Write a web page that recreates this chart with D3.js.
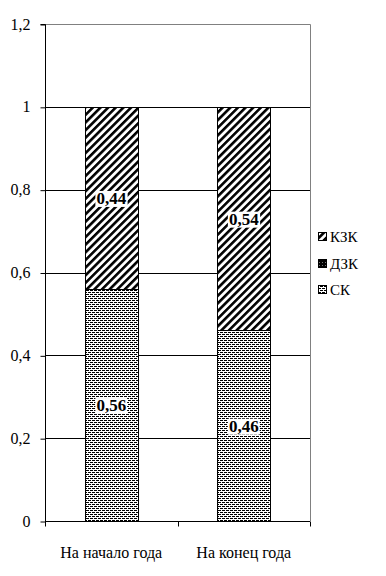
<!DOCTYPE html>
<html><head><meta charset="utf-8">
<script src="https://cdn.jsdelivr.net/npm/d3@7"></script>
</head><body style="margin:0;background:#fff">
<svg id="c" width="386" height="576" style="display:block"></svg>
<script>
const categories = ["На начало года", "На конец года"];
const seriesNames = ["СК", "ДЗК", "КЗК"];
const sk = [0.56, 0.46];
const dzk = [0, 0];
const kzk = [0.44, 0.54];
const yTicks = [0, 0.2, 0.4, 0.6, 0.8, 1, 1.2];
const yTickLabels = ["0", "0,2", "0,4", "0,6", "0,8", "1", "1,2"];

const FF = "Liberation Serif";
const svg = d3.select("#c");
const L = 45, R = 310, T = 24, B = 521;
const x = d3.scaleBand().domain(categories).range([L, R]).paddingInner(0.6).paddingOuter(0.3);
const band = d3.scaleBand().domain(categories).range([L, R]);
const y = d3.scaleLinear().domain([0, 1.2]).range([B, T]);
function font(sel, size, weight) {
  sel.attr("font-family", FF).attr("font-size", size)
    .style("font-family", "'Liberation Serif', serif", "important")
    .style("font-size", size + "px", "important");
  if (weight) sel.attr("font-weight", weight).style("font-weight", weight, "important");
  return sel;
}

const defs = svg.append("defs");
const p1 = defs.append("pattern").attr("id", "diag").attr("patternUnits", "userSpaceOnUse")
  .attr("width", 5.4).attr("height", 5.4).attr("patternTransform", "rotate(45)");
p1.append("rect").attr("width", 5.4).attr("height", 5.4).attr("fill", "#fff");
p1.append("rect").attr("width", 2.6).attr("height", 5.4).attr("fill", "#000");
const p2 = defs.append("pattern").attr("id", "dots").attr("patternUnits", "userSpaceOnUse")
  .attr("width", 4).attr("height", 4);
p2.append("rect").attr("width", 4).attr("height", 4).attr("fill", "#fff");
p2.append("rect").attr("x", 0).attr("y", 0).attr("width", 3).attr("height", 1).attr("fill", "#000");
p2.append("rect").attr("x", 2).attr("y", 2).attr("width", 3).attr("height", 1).attr("fill", "#000");
p2.append("rect").attr("x", -2).attr("y", 2).attr("width", 3).attr("height", 1).attr("fill", "#000");
const p3 = defs.append("pattern").attr("id", "dark").attr("patternUnits", "userSpaceOnUse")
  .attr("width", 3).attr("height", 3);
p3.append("rect").attr("width", 3).attr("height", 3).attr("fill", "#000");
p3.append("rect").attr("x", 1).attr("y", 1).attr("width", 1).attr("height", 1).attr("fill", "#777");
const fills = {"СК": "url(#dots)", "ДЗК": "url(#dark)", "КЗК": "url(#diag)"};
const vals = {"СК": sk, "ДЗК": dzk, "КЗК": kzk};

// plot border (gray top/right)
svg.append("path").attr("d", `M${L},${T + 0.5}H${R + 0.5}V${B}`).attr("fill", "none").attr("stroke", "#808080").attr("stroke-width", 1);

// gridlines
svg.append("g").selectAll("line").data(yTicks.filter(v => v > 0 && v < 1.2)).join("line")
  .attr("x1", L).attr("x2", R).attr("y1", d => Math.round(y(d)) + 0.5).attr("y2", d => Math.round(y(d)) + 0.5)
  .attr("stroke", "#000").attr("stroke-width", 1);

// stacked bars
const rows = categories.map((c, i) => ({cat: c, idx: i, "СК": sk[i], "ДЗК": dzk[i], "КЗК": kzk[i]}));
const stack = d3.stack().keys(seriesNames)(rows);
svg.append("g").selectAll("g").data(stack).join("g")
  .attr("fill", d => fills[d.key])
  .selectAll("rect").data(d => d.filter(s => s[1] - s[0] > 0)).join("rect")
  .attr("x", d => Math.round(x(d.data.cat)) + 0.5)
  .attr("width", Math.round(x.bandwidth()))
  .attr("y", d => Math.round(y(d[1])) + 0.5)
  .attr("height", d => Math.round(y(d[0])) - Math.round(y(d[1])))
  .attr("stroke", "#000").attr("stroke-width", 1);

// data labels
const labels = [];
stack.forEach(s => s.forEach(d => {
  const v = vals[s.key][d.data.idx];
  if (v > 0) labels.push({v, cat: d.data.cat, mid: (d[0] + d[1]) / 2});
}));
const lg = svg.append("g");
labels.forEach(l => {
  const t = lg.append("text").attr("x", x(l.cat) + x.bandwidth() / 2).attr("y", y(l.mid) + 6)
    .attr("text-anchor", "middle")
    .text(l.v.toFixed(2).replace(".", ","));
  font(t, 17, "bold");
  const bb = t.node().getBBox();
  lg.insert("rect", () => t.node()).attr("x", bb.x - 1).attr("y", bb.y + 2).attr("width", bb.width + 2).attr("height", bb.height - 3).attr("fill", "#fff");
});

// y axis
const ya = svg.append("g").attr("transform", `translate(${L + 0.5},0)`)
  .call(d3.axisLeft(y).tickValues(yTicks).tickFormat((d, i) => yTickLabels[i]).tickSize(5).tickPadding(10));
ya.attr("font-family", FF).attr("font-size", 16);
font(ya.selectAll("text"), 16);
ya.select(".domain").attr("d", `M-5,${T + 0.5}H0V${B + 0.5}`);
ya.selectAll("line").attr("transform", "translate(0,0.5)");

// x axis
const xa = svg.append("g").attr("transform", `translate(0,${B + 0.5})`);
xa.append("line").attr("x1", L).attr("x2", R).attr("stroke", "#000");
xa.selectAll(".tk").data([L, band(categories[1]), R]).join("line")
  .attr("x1", d => Math.round(d) + 0.5).attr("x2", d => Math.round(d) + 0.5).attr("y1", 0).attr("y2", 5).attr("stroke", "#000");
font(xa.selectAll("text").data(categories).join("text")
  .attr("x", d => band(d) + band.bandwidth() / 2).attr("y", 36).attr("text-anchor", "middle")
  .text(d => d), 16);

// legend
const leg = svg.append("g").attr("transform", "translate(318,0)");
const legItems = ["КЗК", "ДЗК", "СК"];
const legY = [237, 264, 290];
legItems.forEach((k, i) => {
  leg.append("rect").attr("x", 0.5).attr("y", legY[i] - 4.5).attr("width", 8).attr("height", 8)
    .attr("fill", fills[k]).attr("stroke", "#000").attr("stroke-width", 1);
  font(leg.append("text").attr("x", 12).attr("y", legY[i] + 5).text(k), 15);
});
</script>
</body></html>
